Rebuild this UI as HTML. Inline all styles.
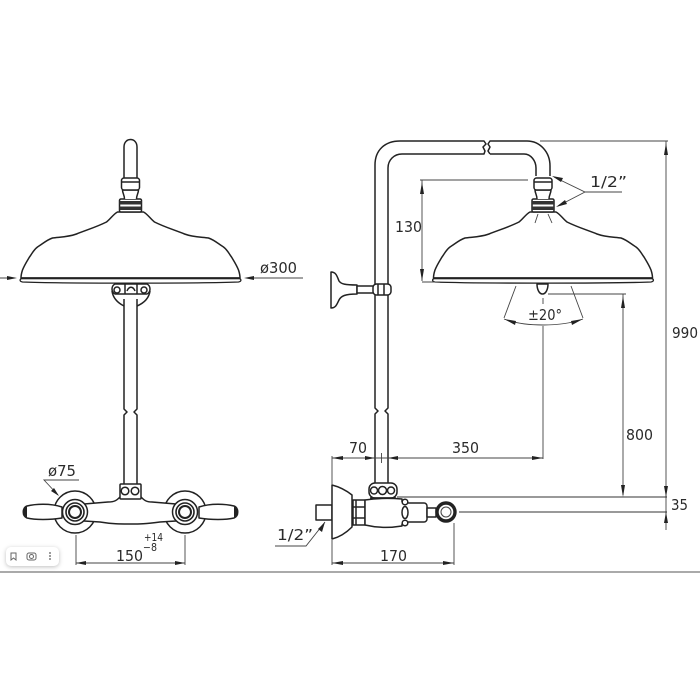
<!DOCTYPE html>
<html><head><meta charset="utf-8"><style>
html,body{margin:0;padding:0;background:#fff}
svg{display:block}
.o{fill:none;stroke:#222;stroke-width:1.5;stroke-linejoin:round}
.w{fill:#fff;stroke:#222;stroke-width:1.5;stroke-linejoin:round}
.d{fill:none;stroke:#444;stroke-width:.9}
.a{fill:#222;stroke:none}
text{font-family:"DejaVu Sans","Liberation Sans",sans-serif;fill:#2a2a2a;font-size:15px}
</style></head><body>
<svg width="700" height="700" viewBox="0 0 700 700" xmlns="http://www.w3.org/2000/svg">
<defs>
<g id="dome">
<path class="w" d="M-13 212 C-17 214 -20 219 -24 222 C-34 227 -44 230 -54 234 C-62 237 -70 237 -78 238 C-84 240 -88 244 -93 247 C-97 250 -98 253 -101 257 C-104 262 -106 265 -108 270 C-109 273 -109.500 275 -109.500 278 L109.500 278 C109.500 275 109 273 108 270 C106 265 104 262 101 257 C98 253 97 250 93 247 C88 244 84 240 78 238 C70 237 62 237 54 234 C44 230 34 227 24 222 C20 219 17 214 13 212 Z"/>
<path d="M-109 278.500 H109 C111 279.500 111 281.500 108 282 C70 283.500 -70 283.500 -108 282 C-111 281.500 -111 279.500 -109 278.500Z" fill="#fff" stroke="#222" stroke-width="1.3"/>
<line x1="-109" y1="278.300" x2="109" y2="278.300" stroke="#222" stroke-width="2"/>
<rect x="-11" y="199" width="22" height="13" rx="1.500" fill="#fff" stroke="#222" stroke-width="1.500"/>
<rect x="-11" y="201" width="22" height="3.500" fill="#333"/><rect x="-11" y="206.500" width="22" height="3.500" fill="#333"/>
<path d="M-6 199 C-6 195 -8 193 -8 190 H8 C8 193 6 195 6 199" class="w"/>
<rect x="-9" y="178" width="18" height="12" rx="2.500" class="w"/>
<line x1="-9" y1="182" x2="9" y2="182" stroke="#222" stroke-width="1.500"/>
</g>
<g id="rose">
<circle r="21" class="w"/>
</g>
<g id="ring">
<circle r="12.500" class="w" stroke-width="1.200"/><circle r="9" fill="#fff" stroke="#222" stroke-width="1.600"/><circle r="6" fill="#fff" stroke="#222" stroke-width="2"/>
</g>
</defs>

<!-- LEFT VIEW -->
<path class="w" d="M124 178 V147 C124 137 137 137 137 147 V178"/>
<use href="#dome" x="130.500"/>
<path class="o" d="M124 299 V409 L127 412 L124 415 V485 M137 299 V409 L134 412 L137 415 V485"/>
<path class="o" d="M112 291 C113 298 118 303 124 306 M150 291 C149 298 144 303 137 306"/>
<path class="w" d="M115 284 H147 C151 286 151 292 147 294 H115 C111 292 111 286 115 284Z"/>
<circle cx="117" cy="290" r="3" class="o" stroke-width="1"/><circle cx="144" cy="290" r="3" class="o" stroke-width="1"/>
<path class="o" d="M125 284 V294 M137 284 V294 M127 291 C129 286 133 286 135 291"/>

<!-- roses + body left -->
<use href="#rose" x="75" y="512"/><use href="#rose" x="185" y="512"/>
<path class="w" d="M62 507 C50 503 35 504 27 506 C22 508 22 516 27 518 C35 520 50 520 62 518Z"/>
<path d="M27 506 C22 508 22 516 27 518Z" fill="#222"/>
<path class="w" d="M199 507 C211 503 226 504 234 506 C239 508 239 516 234 518 C226 520 211 520 199 518Z"/>
<path d="M234 506 C239 508 239 516 234 518Z" fill="#222"/>
<path class="w" d="M84 504 L108 502 C115 502 117 500 120 497 H141 C144 500 146 502 152 502 L176 504 V521 L160 522 C145 524 140 524 130 524 C120 524 112 524 100 522 L84 521Z"/>
<rect x="120" y="484" width="21" height="15" rx="1" class="w"/>
<circle cx="125" cy="491" r="3.800" class="o" stroke-width="1.300"/><circle cx="135" cy="491" r="3.800" class="o" stroke-width="1.300"/>
<use href="#ring" x="75" y="512"/><use href="#ring" x="185" y="512"/>

<!-- left dims -->
<path class="d" d="M0 278 H14 M247 278 H303"/>
<path class="a" d="M17 278 L7 276 V280Z M244 278 L254 276 V280Z"/>
<text x="260" y="273" textLength="37" lengthAdjust="spacingAndGlyphs">ø300</text>
<text x="48" y="476" textLength="28" lengthAdjust="spacingAndGlyphs">ø75</text>
<path class="d" d="M79 480 H44 L58 495"/>
<path class="a" d="M59 496 L51 491 L54 488Z"/>
<path class="d" d="M76 535 V565 M185 535 V565 M76 563 H185"/>
<path class="a" d="M76 563 L86 561 V565Z M185 563 L175 561 V565Z"/>
<text x="116" y="561" textLength="27" lengthAdjust="spacingAndGlyphs">150</text>
<text x="144" y="541" style="font-size:10.500px" textLength="19" lengthAdjust="spacingAndGlyphs">+14</text>
<text x="143" y="551" style="font-size:10.500px" textLength="14" lengthAdjust="spacingAndGlyphs">−8</text>

<!-- RIGHT VIEW pipe -->
<path class="o" d="M375 485 V414 L378 411 L375 408 V165 C375 150 385 141 400 141 H484 L486 144 L483 147 L485 151 L484 154 H402 C394 154 388 160 388 168 V408 L385 411 L388 414 V485"/>
<path class="o" d="M490 154 L488 151 L490 147 L488 144 L490 141 H527 C540 141 550 152 550 166 V176 M490 154 H524 C531 154 536 161 536 168 V176"/>
<use href="#dome" x="543"/>
<path class="d" d="M538 214 L535 223 M548 214 L552 223" stroke="#777"/>
<!-- nozzle -->
<path class="w" d="M537 284 H548 C548 289 546 294 542.500 294 C539 294 537 289 537 284Z"/>
<!-- slide -->
<path class="w" d="M331 272 C336 272 337 276 339 281 C341 284 345 285 357 285 V294 C345 294 341 296 339 300 C337 304 336 308 331 308Z"/>
<rect x="357" y="286" width="17" height="7" class="w"/>
<rect x="373" y="284" width="18" height="11" rx="3.500" class="w"/>
<path class="o" d="M378 284 V295 M384 284 V295" stroke-width="1.200"/>

<!-- valve -->
<rect x="316" y="505" width="16" height="15" class="w"/>
<path class="w" d="M332 485 C340 487 347 491 352 495 V527 C347 532 340 537 332 539Z"/>
<rect x="353" y="500" width="12" height="25" class="w"/>
<path class="o" d="M356 500 V525 M353 507 H365 M353 518 H365"/>
<path class="w" d="M365 500 C378 498 390 498 402 499 V526 C390 528 378 528 365 525Z"/>
<rect x="402" y="503" width="25" height="19" rx="3" class="w"/>
<rect x="427" y="508" width="9" height="9" class="w"/>
<path d="M401 502 C407 505 410 510 410 513 C410 517 407 520 401 524 Z" fill="#fff"/>
<circle cx="405" cy="502" r="2.800" class="w" stroke-width="1.200"/><circle cx="405" cy="523" r="2.800" class="w" stroke-width="1.200"/>
<ellipse cx="405" cy="512.500" rx="3" ry="6" class="w" stroke-width="1.200"/>
<circle cx="446" cy="512" r="9" fill="#fff" stroke="#222" stroke-width="3.400"/>
<circle cx="446" cy="512" r="5" fill="#fff" stroke="#444" stroke-width="1"/>
<rect x="369" y="483" width="28" height="15" rx="6" class="w"/>
<circle cx="374" cy="490.500" r="3.500" class="o" stroke-width="1.200"/>
<circle cx="382.500" cy="490.500" r="4" class="o" stroke-width="1.300"/>
<circle cx="391" cy="490.500" r="3.500" class="o" stroke-width="1.200"/>
<path class="o" d="M370 498 L396 498" stroke-width="2"/>

<!-- right dims -->
<path class="d" d="M540 141 H668 M666 141 V530"/>
<path class="a" d="M666 143 L664 155 H668Z"/>
<text x="672" y="338" textLength="26" lengthAdjust="spacingAndGlyphs">990</text>
<path class="d" d="M420 180 H528 M422 180 V281 M422 282 H440"/>
<path class="a" d="M422 182 L420 194 H424Z M422 281 L420 269 H424Z"/>
<text x="395" y="232" textLength="27" lengthAdjust="spacingAndGlyphs">130</text>
<text x="590" y="187" textLength="37" lengthAdjust="spacingAndGlyphs">1/2”</text>
<path class="d" d="M622 192 H585 L554 177 M585 192 L558 206"/>
<path class="a" d="M552 176 L563 178 L561 182Z M556 207 L565 200 L567 204Z"/>
<path class="d" d="M516 286 L504 318 M571 286 L583 318 M504 319 C525 327 561 327 583 319"/>
<path class="a" d="M504 319 L516 321 L515 325Z M583 319 L571 321 L572 325Z"/>
<text x="528" y="320" textLength="34" lengthAdjust="spacingAndGlyphs">±20°</text>
<path class="d" d="M543 298 V304 M543 326 V459 M548 294 H626 M623 294 V495"/>
<path class="a" d="M623 296 L621 308 H625Z M623 497 L621 485 H625Z"/>
<text x="626" y="440" textLength="27" lengthAdjust="spacingAndGlyphs">800</text>
<path class="d" d="M332 458 H543 M332 456 V485 M381.500 453 V463"/>
<path class="a" d="M332 458 L343 456 V460Z M375 458 L365 456 V460Z M388 458 L398 456 V460Z M543 458 L532 456 V460Z"/>
<text x="349" y="453" textLength="18" lengthAdjust="spacingAndGlyphs">70</text>
<text x="452" y="453" textLength="27" lengthAdjust="spacingAndGlyphs">350</text>
<path d="M397 497 H667 M459 512 H667" fill="none" stroke="#333" stroke-width="1"/>
<path class="a" d="M666 497 L664 486 H668Z M666 512 L664 523 H668Z"/>
<text x="671" y="510" textLength="17" lengthAdjust="spacingAndGlyphs">35</text>
<path class="d" d="M332 540 V565 M454 523 V565 M332 563 H454"/>
<path class="a" d="M332 563 L343 561 V565Z M454 563 L443 561 V565Z"/>
<text x="380" y="561" textLength="27" lengthAdjust="spacingAndGlyphs">170</text>
<text x="277" y="540" textLength="36" lengthAdjust="spacingAndGlyphs">1/2”</text>
<path class="d" d="M275 546 H306 L325 522"/>
<path class="a" d="M325 522 L318 529 L322 532Z"/>

<!-- footer -->
<rect x="0" y="571" width="700" height="2" fill="#aaa"/>
<rect x="6" y="547" width="53" height="19" rx="5" fill="#fff" style="filter:drop-shadow(0 1px 2px rgba(0,0,0,.25))"/>
<path d="M11 553 H16 V560 L13.500 558 L11 560Z" fill="none" stroke="#666" stroke-width="1"/>
<rect x="27" y="553" width="9" height="7" rx="2" fill="none" stroke="#666" stroke-width="1"/><circle cx="31.500" cy="556.500" r="2" fill="none" stroke="#666" stroke-width="1"/>
<circle cx="50" cy="553" r=".9" fill="#555"/><circle cx="50" cy="556" r=".9" fill="#555"/><circle cx="50" cy="559" r=".9" fill="#555"/>
</svg>
</body></html>
